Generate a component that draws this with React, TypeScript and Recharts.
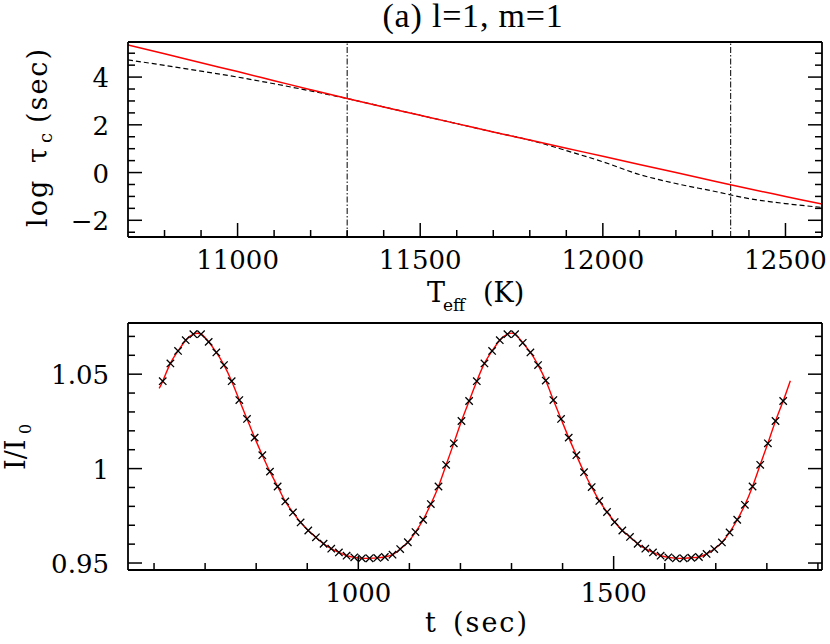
import React from "react";
import { ComposedChart, Line, Scatter, XAxis, YAxis, ReferenceLine } from "recharts";

const SERIF = "'DejaVu Serif', serif";
const TITLE_FONT = "'Liberation Serif', 'Times New Roman', serif";

// top panel: log tau_c vs Teff
const teff = [10700, 10800, 10900, 11000, 11100, 11200, 11300, 11400, 11500, 11600, 11700, 11800, 11900, 12000, 12100, 12200, 12300, 12400, 12500, 12600];
const logTauFit = [5.35, 4.98, 4.6, 4.23, 3.85, 3.47, 3.1, 2.75, 2.4, 2.05, 1.7, 1.36, 1.02, 0.68, 0.34, 0.0, -0.34, -0.68, -1.0, -1.32];
const logTauModel = [4.72, 4.49, 4.25, 4.0, 3.72, 3.42, 3.1, 2.75, 2.4, 2.05, 1.7, 1.36, 0.92, 0.45, -0.08, -0.46, -0.77, -1.09, -1.3, -1.46];
const teffEdges = [11300, 12350];

const teffTicks = [10800, 10900, 11000, 11100, 11200, 11300, 11400, 11500, 11600, 11700, 11800, 11900, 12000, 12100, 12200, 12300, 12400, 12500];
const teffMajor = [11000, 11500, 12000, 12500];
const logTauTicks = [-2.5, -2, -1.5, -1, -0.5, 0, 0.5, 1, 1.5, 2, 2.5, 3, 3.5, 4, 4.5, 5];
const logTauMajor = [-2, 0, 2, 4];

// bottom panel: light curve
const timeSec = [
  617, 632, 647, 662, 677, 692, 707, 722, 737, 752, 767, 782, 797, 812, 827, 842, 857, 872, 887, 902,
  917, 932, 947, 962, 977, 992, 1007, 1022, 1037, 1052, 1067, 1082, 1097, 1112, 1127, 1142, 1157, 1172, 1187, 1202,
  1217, 1232, 1247, 1262, 1277, 1292, 1307, 1322, 1337, 1352, 1367, 1382, 1397, 1412, 1427, 1442, 1457, 1472, 1487, 1502,
  1517, 1532, 1547, 1562, 1577, 1592, 1607, 1622, 1637, 1652, 1667, 1682, 1697, 1712, 1727, 1742, 1757, 1772, 1787, 1802,
  1817, 1832,
];
const intensity = [
  1.0463, 1.0557, 1.0623, 1.068, 1.0712, 1.0712, 1.0671, 1.0615, 1.0548, 1.0463, 1.0363, 1.0263, 1.0164, 1.0071, 0.9984, 0.9905, 0.9826, 0.9768, 0.9715, 0.9672,
  0.9636, 0.9602, 0.9576, 0.9556, 0.9539, 0.953, 0.9525, 0.9525, 0.9527, 0.9532, 0.9544, 0.9574, 0.961, 0.9664, 0.9729, 0.9812, 0.9905, 1.002, 1.0134, 1.0252,
  1.0358, 1.0463, 1.0557, 1.0623, 1.068, 1.0712, 1.0712, 1.0666, 1.0615, 1.0548, 1.0466, 1.0363, 1.0263, 1.0164, 1.0071, 0.9981, 0.9902, 0.9829, 0.977, 0.9717,
  0.9672, 0.9638, 0.9602, 0.9576, 0.9556, 0.9539, 0.953, 0.9525, 0.9525, 0.9528, 0.9532, 0.9548, 0.9574, 0.9609, 0.9662, 0.9729, 0.9808, 0.9905, 1.002, 1.0134,
  1.0252, 1.0358,
];
const fitStartT = 610;
const fitStartI = 1.0425;
const fitEndT = 1846;
const fitEndI = 1.0465;

const timeTicks = [600, 700, 800, 900, 1000, 1100, 1200, 1300, 1400, 1500, 1600, 1700, 1800, 1900];
const timeMajor = [1000, 1500];
const intensityTicks = [0.95, 0.96, 0.97, 0.98, 0.99, 1, 1.01, 1.02, 1.03, 1.04, 1.05, 1.06, 1.07];
const intensityMajor = [0.95, 1, 1.05];

const teffData = teff.map((k, i) => ({ teff: k, fit: logTauFit[i], model: logTauModel[i] }));
const crossData = timeSec.map((t, i) => ({ t, i: intensity[i] }));
const fitData = [{ t: fitStartT, i: fitStartI }, ...crossData, { t: fitEndT, i: fitEndI }];

const frame = { stroke: "#000", strokeWidth: 1.8 };

type Side = "bottom" | "top" | "left" | "right";

// ticks drawn inward, on all four sides, labels only on majors of bottom/left
function frameTick(side: Side, majors: number[], fmt?: (v: number) => string) {
  return function FrameTick(props: any) {
    const { x, y, payload } = props;
    const v = payload.value;
    const major = majors.some((m) => Math.abs(m - v) < 1e-9);
    const len = major ? 14 : 7;
    let x2 = x;
    let y2 = y;
    if (side === "bottom") y2 = y - len;
    if (side === "top") y2 = y + len;
    if (side === "left") x2 = x + len;
    if (side === "right") x2 = x - len;
    let label = null;
    if (major && fmt && side === "bottom") {
      label = (
        <text x={x} y={y + 32} textAnchor="middle" fontFamily={SERIF} fontSize={26} fill="#000">
          {fmt(v)}
        </text>
      );
    }
    if (major && fmt && side === "left") {
      label = (
        <text x={x - 19} y={y + 10} textAnchor="end" fontFamily={SERIF} fontSize={26} fill="#000">
          {fmt(v)}
        </text>
      );
    }
    return (
      <g>
        <line x1={x} y1={y} x2={x2} y2={y2} stroke="#000" strokeWidth={1.5} />
        {label}
      </g>
    );
  };
}

const fmtLogTau = (v: number) => (v < 0 ? "\u2212" + Math.abs(v) : String(v));
const fmtPlain = (v: number) => String(v);
const fmtIntensity = (v: number) => (v === 1 ? "1" : v.toFixed(2));

const CrossMark = (props: any) => {
  const { cx, cy } = props;
  const r = 3.7;
  return (
    <path
      d={`M${cx - r},${cy - r}L${cx + r},${cy + r}M${cx - r},${cy + r}L${cx + r},${cy - r}`}
      stroke="#000"
      strokeWidth={1.3}
      fill="none"
    />
  );
};

const PanelTitle = () => (
  <text x={473} y={27} textAnchor="middle" fontFamily={TITLE_FONT} fontSize={34} letterSpacing={0.8} fill="#000">
    (a) l=1, m=1
  </text>
);

const TeffTitle = () => (
  <text fontFamily={SERIF} fill="#000" fontSize={27}>
    <tspan x={427} y={302}>T</tspan>
    <tspan x={443} y={311} fontSize={17}>eff</tspan>
    <tspan x={483} y={302}>(K)</tspan>
  </text>
);

const LogTauTitle = () => (
  <text transform="rotate(-90)" fontFamily={SERIF} fill="#000" fontSize={27} letterSpacing={2}>
    <tspan x={-227} y={46.5}>log</tspan>
    <tspan x={-163} y={46.5}>{"\u03c4"}</tspan>
    <tspan x={-143} y={52} fontSize={18}>c</tspan>
    <tspan x={-123} y={46.5}>(sec)</tspan>
  </text>
);

const TimeTitle = () => (
  <text fontFamily={SERIF} fill="#000" fontSize={27} letterSpacing={2}>
    <tspan x={425} y={314}>t</tspan>
    <tspan x={453} y={314}>(sec)</tspan>
  </text>
);

const IntensityTitle = () => (
  <text transform="rotate(-90)" fontFamily={SERIF} fill="#000" fontSize={27}>
    <tspan x={-152} y={25}>I/I</tspan>
    <tspan x={-116} y={31} fontSize={16}>0</tspan>
  </text>
);

function TopPanel() {
  return (
    <ComposedChart width={830} height={318} data={teffData} margin={{ top: 0, right: 0, bottom: 0, left: 0 }}>
      <XAxis
        xAxisId="b"
        dataKey="teff"
        type="number"
        domain={[10700, 12600]}
        allowDataOverflow
        ticks={teffTicks}
        interval={0}
        tickSize={0}
        tickMargin={0}
        tickLine={false}
        axisLine={frame}
        tick={frameTick("bottom", teffMajor, fmtPlain)}
        height={81}
        label={TeffTitle}
      />
      <XAxis
        xAxisId="t"
        orientation="top"
        type="number"
        domain={[10700, 12600]}
        allowDataOverflow
        ticks={teffTicks}
        interval={0}
        tickSize={0}
        tickMargin={0}
        tickLine={false}
        axisLine={frame}
        tick={frameTick("top", teffMajor)}
        height={42}
        label={PanelTitle}
      />
      <YAxis
        yAxisId="l"
        type="number"
        domain={[-2.7, 5.47]}
        allowDataOverflow
        ticks={logTauTicks}
        interval={0}
        tickSize={0}
        tickMargin={0}
        tickLine={false}
        axisLine={frame}
        tick={frameTick("left", logTauMajor, fmtLogTau)}
        width={128}
        label={LogTauTitle}
      />
      <YAxis
        yAxisId="r"
        orientation="right"
        type="number"
        domain={[-2.7, 5.47]}
        allowDataOverflow
        ticks={logTauTicks}
        interval={0}
        tickSize={0}
        tickMargin={0}
        tickLine={false}
        axisLine={frame}
        tick={frameTick("right", logTauMajor)}
        width={8}
      />
      {teffEdges.map((k) => (
        <ReferenceLine key={k} xAxisId="b" yAxisId="l" x={k} stroke="#000" strokeWidth={1} strokeDasharray="6 2 1.5 2" />
      ))}
      <Line
        xAxisId="b"
        yAxisId="l"
        dataKey="model"
        type="monotone"
        stroke="#000"
        strokeWidth={1.2}
        strokeDasharray="5 3"
        dot={false}
        isAnimationActive={false}
      />
      <Line
        xAxisId="b"
        yAxisId="l"
        dataKey="fit"
        type="monotone"
        stroke="#ff0000"
        strokeWidth={1.5}
        dot={false}
        isAnimationActive={false}
      />
    </ComposedChart>
  );
}

function BottomPanel() {
  return (
    <ComposedChart width={830} height={326} margin={{ top: 0, right: 0, bottom: 0, left: 0 }}>
      <XAxis
        xAxisId="b"
        dataKey="t"
        type="number"
        domain={[549, 1908]}
        allowDataOverflow
        ticks={timeTicks}
        interval={0}
        tickSize={0}
        tickMargin={0}
        tickLine={false}
        axisLine={frame}
        tick={frameTick("bottom", timeMajor, fmtPlain)}
        height={74}
        label={TimeTitle}
      />
      <XAxis
        xAxisId="t"
        orientation="top"
        type="number"
        domain={[549, 1908]}
        allowDataOverflow
        ticks={timeTicks}
        interval={0}
        tickSize={0}
        tickMargin={0}
        tickLine={false}
        axisLine={frame}
        tick={frameTick("top", timeMajor)}
        height={5}
      />
      <YAxis
        yAxisId="l"
        type="number"
        domain={[0.9463, 1.0771]}
        allowDataOverflow
        ticks={intensityTicks}
        interval={0}
        tickSize={0}
        tickMargin={0}
        tickLine={false}
        axisLine={frame}
        tick={frameTick("left", intensityMajor, fmtIntensity)}
        width={128}
        label={IntensityTitle}
      />
      <YAxis
        yAxisId="r"
        orientation="right"
        type="number"
        domain={[0.9463, 1.0771]}
        allowDataOverflow
        ticks={intensityTicks}
        interval={0}
        tickSize={0}
        tickMargin={0}
        tickLine={false}
        axisLine={frame}
        tick={frameTick("right", intensityMajor)}
        width={8}
      />
      <Line
        xAxisId="b"
        yAxisId="l"
        data={fitData}
        dataKey="i"
        type="natural"
        stroke="#ff0000"
        strokeWidth={1.4}
        dot={false}
        isAnimationActive={false}
      />
      <Scatter
        xAxisId="b"
        yAxisId="l"
        data={crossData}
        dataKey="i"
        shape={CrossMark}
        isAnimationActive={false}
      />
    </ComposedChart>
  );
}

export default function App() {
  return (
    <div style={{ position: "absolute", left: 0, top: 0, width: 830, height: 644, background: "#fff" }}>
      <TopPanel />
      <BottomPanel />
    </div>
  );
}
